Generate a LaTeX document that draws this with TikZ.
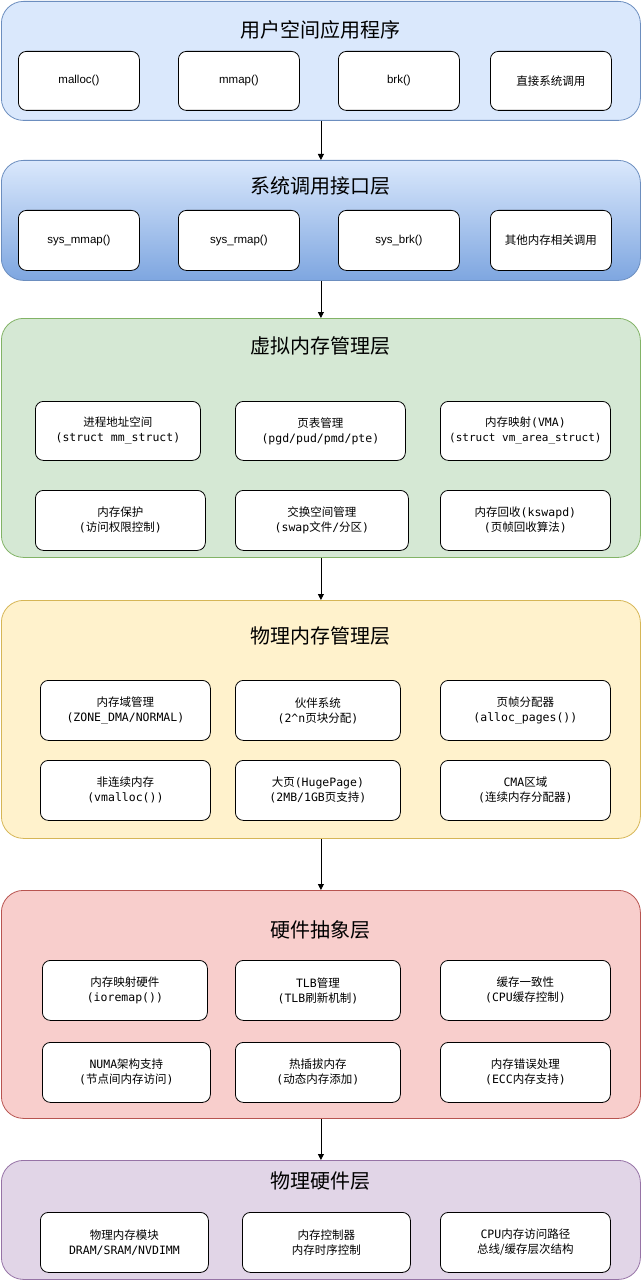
\documentclass[tikz,border=0pt]{standalone}
\usepackage{fontspec}
\setmainfont{Liberation Sans}
\newfontfamily\cjk{Noto Sans CJK SC}
\newfontfamily\mono{DejaVu Sans Mono}
\usetikzlibrary{arrows.meta}
\definecolor{bF}{HTML}{DAE8FC}\definecolor{bS}{HTML}{6C8EBF}
\definecolor{bB}{HTML}{7EA6E0}
\definecolor{gF}{HTML}{D5E8D4}\definecolor{gS}{HTML}{82B366}
\definecolor{yF}{HTML}{FFF2CC}\definecolor{yS}{HTML}{D6B656}
\definecolor{rF}{HTML}{F8CECC}\definecolor{rS}{HTML}{B85450}
\definecolor{pF}{HTML}{E1D5E7}\definecolor{pS}{HTML}{9673A6}
\newcommand{\lay}[6]{\node[layer,fill=#5,draw=#6,minimum width=639pt,minimum height=#3-#2,anchor=north west] (#1) at (1,#2) {};}
\newcommand{\bx}[6]{\node[ibox,minimum width=#4-#2,minimum height=#5-#3,anchor=north west] (#1) at (#2,#3) {#6};}
\begin{document}
\begin{tikzpicture}[x=1pt,y=-1pt,
 layer/.style={rounded corners=22pt,line width=0.8pt,inner sep=0pt},
 ibox/.style={draw=black,fill=white,rounded corners=8pt,line width=0.8pt,inner sep=0pt,align=center,font=\fontsize{11.5}{15}\selectfont},
 ttl/.style={font=\cjk\fontsize{20}{22}\selectfont},
 arr/.style={-{Triangle[length=6pt,width=6pt]},line width=0.8pt}]
\useasboundingbox (0,0) rectangle (641,1281);
\lay{L1}{1}{120}{}{bF}{bS}
\node[layer,top color=bF,bottom color=bB,draw=bS,minimum width=639pt,minimum height=120pt,anchor=north west] (L2) at (1,160) {};
\lay{L3}{318}{557}{}{gF}{gS}
\lay{L4}{600}{838}{}{yF}{yS}
\lay{L5}{890}{1118}{}{rF}{rS}
\lay{L6}{1160}{1279}{}{pF}{pS}
\node[ttl] (t1) at (320,30) {用户空间应用程序};
\node[ttl] (t2) at (320,186) {系统调用接口层};
\node[ttl] (t3) at (320,346) {虚拟内存管理层};
\node[ttl] (t4) at (320,636) {物理内存管理层};
\node[ttl] (t5) at (320,930) {硬件抽象层};
\node[ttl] (t6) at (320,1181) {物理硬件层};
% layer 1
\bx{a1}{18}{51}{139}{110}{malloc()}
\bx{a2}{178}{51}{299}{110}{mmap()}
\bx{a3}{338}{51}{459}{110}{brk()}
\bx{a4}{490}{51}{611}{110}{\cjk 直接系统调用}
% layer 2
\bx{b1}{18}{210}{139}{270}{sys\_mmap()}
\bx{b2}{178}{210}{299}{270}{sys\_rmap()}
\bx{b3}{338}{210}{459}{270}{sys\_brk()}
\bx{b4}{490}{210}{611}{270}{\cjk 其他内存相关调用}
% layer 3
\bx{c1}{35}{401}{200}{460}{\cjk 进程地址空间\\\mono(struct mm\_struct)}
\bx{c2}{235}{401}{405}{460}{\cjk 页表管理\\\mono(pgd/pud/pmd/pte)}
\bx{c3}{440}{401}{610}{460}{\cjk 内存映射\mono(VMA)\\\mono\fontsize{11}{15}\selectfont(struct vm\_area\_struct)}
\bx{c4}{35}{490}{205}{550}{\cjk 内存保护\\\mono(\cjk 访问权限控制\mono)}
\bx{c5}{235}{490}{408}{550}{\cjk 交换空间管理\\\mono(swap\cjk 文件\mono/\cjk 分区\mono)}
\bx{c6}{440}{490}{610}{550}{\cjk 内存回收\mono(kswapd)\\\mono(\cjk 页帧回收算法\mono)}
% layer 4
\bx{d1}{40}{680}{210}{740}{\cjk 内存域管理\\\mono(ZONE\_DMA/NORMAL)}
\bx{d2}{235}{680}{400}{740}{\cjk 伙伴系统\\\mono(2\^{}n\cjk 页块分配\mono)}
\bx{d3}{440}{680}{610}{740}{\cjk 页帧分配器\\\mono(alloc\_pages())}
\bx{d4}{40}{760}{210}{820}{\cjk 非连续内存\\\mono(vmalloc())}
\bx{d5}{235}{760}{400}{820}{\cjk 大页\mono(HugePage)\\\mono(2MB/1GB\cjk 页支持\mono)}
\bx{d6}{440}{760}{610}{820}{\mono CMA\cjk 区域\\\mono(\cjk 连续内存分配器\mono)}
% layer 5
\bx{e1}{42}{960}{207}{1020}{\cjk 内存映射硬件\\\mono(ioremap())}
\bx{e2}{235}{960}{400}{1020}{\mono TLB\cjk 管理\\\mono(TLB\cjk 刷新机制\mono)}
\bx{e3}{440}{960}{610}{1020}{\cjk 缓存一致性\\\mono(CPU\cjk 缓存控制\mono)}
\bx{e4}{42}{1042}{210}{1102}{\mono NUMA\cjk 架构支持\\\mono(\cjk 节点间内存访问\mono)}
\bx{e5}{235}{1042}{400}{1102}{\cjk 热插拔内存\\\mono(\cjk 动态内存添加\mono)}
\bx{e6}{440}{1042}{610}{1102}{\cjk 内存错误处理\\\mono(ECC\cjk 内存支持\mono)}
% layer 6
\bx{f1}{40}{1212}{208}{1272}{\cjk 物理内存模块\\\mono DRAM/SRAM/NVDIMM}
\bx{f2}{242}{1212}{410}{1272}{\cjk 内存控制器\\\cjk 内存时序控制}
\bx{f3}{440}{1212}{610}{1272}{\mono CPU\cjk 内存访问路径\\\cjk 总线/缓存层次结构}
\draw[arr] (L1.south) -- (L2.north);
\draw[arr] (L2.south) -- (L3.north);
\draw[arr] (L3.south) -- (L4.north);
\draw[arr] (L4.south) -- (L5.north);
\draw[arr] (L5.south) -- (L6.north);
\end{tikzpicture}
\end{document}
